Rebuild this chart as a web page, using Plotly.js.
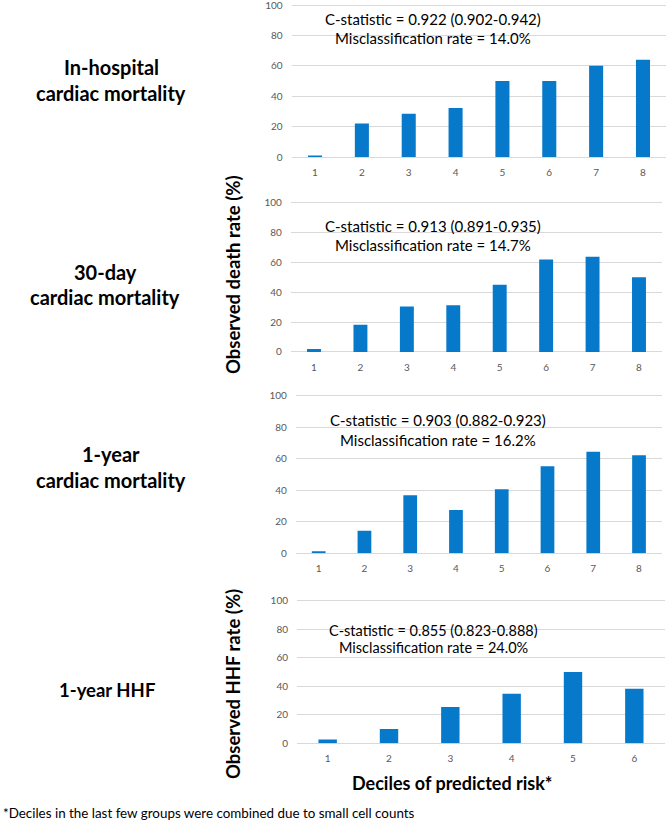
<!DOCTYPE html>
<html>
<head>
<meta charset="utf-8">
<script src="https://cdn.plot.ly/plotly-3.0.1.min.js"></script>
<style>html,body{margin:0;padding:0;background:#fff;}#chart{width:668px;height:821px;}</style>
</head>
<body>
<div id="chart"></div>
<script>
// ---- data ----
const deciles8 = ['1','2','3','4','5','6','7','8'];
const deciles6 = ['1','2','3','4','5','6'];
const inHospitalRate = [1, 22, 28.5, 32.3, 50, 50, 60, 64];
const day30Rate = [2, 18.3, 30.4, 31.3, 45, 62, 63.8, 50];
const year1Rate = [1.3, 14.4, 36.9, 27.5, 40.7, 55.3, 64.6, 62.3];
const hhfRate = [2.6, 10, 25.5, 34.8, 50, 38.3];
const yTicks = [0, 20, 40, 60, 80, 100];
const panelNames = [['In-hospital', 'cardiac mortality'], ['30-day', 'cardiac mortality'], ['1-year', 'cardiac mortality'], ['1-year HHF']];
const statLines = [
  ['C-statistic = 0.922 (0.902-0.942)', 'Misclassification rate = 14.0%'],
  ['C-statistic = 0.913 (0.891-0.935)', 'Misclassification rate = 14.7%'],
  ['C-statistic = 0.903 (0.882-0.923)', 'Misclassification rate = 16.2%'],
  ['C-statistic = 0.855 (0.823-0.888)', 'Misclassification rate = 24.0%']
];
const yTitleDeath = 'Observed death rate (%)';
const yTitleHHF = 'Observed HHF rate (%)';
const xTitle = 'Deciles of predicted risk*';
const footnote = '*Deciles in the last few groups were combined due to small cell counts';

// ---- layout helpers ----
const W = 668, H = 821;
const px = (x) => x / W;
const py = (y) => 1 - y / H;
const FONT = 'Lato, "Open Sans", sans-serif';
const barColor = '#0779CA';
const YMAX = 101;

const cats = [deciles8, deciles8, deciles8, deciles6];
const vals = [inHospitalRate, day30Rate, year1Rate, hhfRate];
// pixel boxes [left, right, y of 100, y of 0]
const boxes = [[291.6, 666.4, 5, 157], [290.8, 662.2, 202.7, 352], [295.8, 661.9, 396, 553.3], [297, 665, 600.7, 743.3]];

const traces = [];
const layout = {
  width: W, height: H,
  margin: {l: 0, r: 0, t: 0, b: 0},
  paper_bgcolor: '#fff', plot_bgcolor: '#fff',
  showlegend: false,
  bargap: 0.7,
  font: {family: FONT, color: '#000'},
  annotations: []
};

vals.forEach((v, i) => {
  const n = i + 1;
  const sx = n === 1 ? '' : String(n);
  traces.push({
    type: 'bar', x: cats[i], y: v, xaxis: 'x' + sx, yaxis: 'y' + sx,
    marker: {color: barColor, line: {width: 0}}, hoverinfo: 'skip'
  });
  const b = boxes[i];
  const topPx = b[3] - (b[3] - b[2]) * YMAX / 100;
  layout['xaxis' + sx] = {
    domain: [px(b[0]), px(b[1])], anchor: 'y' + sx, type: 'category',
    showgrid: false, showline: false, zeroline: false, ticks: '',
    tickfont: {family: FONT, size: 10, color: '#595959'}, ticklabelstandoff: 8, fixedrange: true
  };
  layout['yaxis' + sx] = {
    domain: [py(b[3]), py(topPx)], anchor: 'x' + sx, range: [0, YMAX],
    tickvals: yTicks, showgrid: true, gridcolor: '#d9d9d9', gridwidth: 1,
    zeroline: true, zerolinecolor: '#d9d9d9', zerolinewidth: 1, showline: false, ticks: '',
    ticklabeloverflow: 'allow',
    tickfont: {family: FONT, size: 10, color: '#595959'}, ticklabelstandoff: 8, fixedrange: true
  };
});

function ann(text, x, y, size, bold, opts) {
  layout.annotations.push(Object.assign({
    text: bold ? '<b>' + text + '</b>' : text,
    xref: 'paper', yref: 'paper', x: px(x), y: py(y),
    xanchor: 'center', yanchor: 'middle', showarrow: false,
    font: {family: FONT, size: size, color: '#000'}
  }, opts || {}));
}

// stats lines
const statPos = [[433, 19, 38, 15], [433, 226, 245, 15], [438, 420, 440, 15], [433, 630, 647.5, 14.5]];
statLines.forEach((l, i) => {
  ann(l[0], statPos[i][0], statPos[i][1], statPos[i][3], false);
  ann(l[1], statPos[i][0], statPos[i][2], statPos[i][3], false);
});

// panel names
const namePos = [[111, 67, 93, 20], [105, 272, 297, 20], [111, 454, 480, 20], [107, 690, 0, 18.5]];
panelNames.forEach((nm, i) => {
  ann(nm[0], namePos[i][0], namePos[i][1], namePos[i][3], true);
  if (nm[1]) ann(nm[1], namePos[i][0], namePos[i][2], namePos[i][3], true);
});

ann(yTitleDeath, 233, 275, 18.5, true, {textangle: -90});
ann(yTitleHHF, 233, 684, 18.5, true, {textangle: -90});
ann(xTitle, 452, 783, 18, true);
ann(footnote, 1, 813, 13.4, false, {xanchor: 'left'});

Plotly.newPlot('chart', traces, layout, {displayModeBar: false, staticPlot: true});
</script>
</body>
</html>
